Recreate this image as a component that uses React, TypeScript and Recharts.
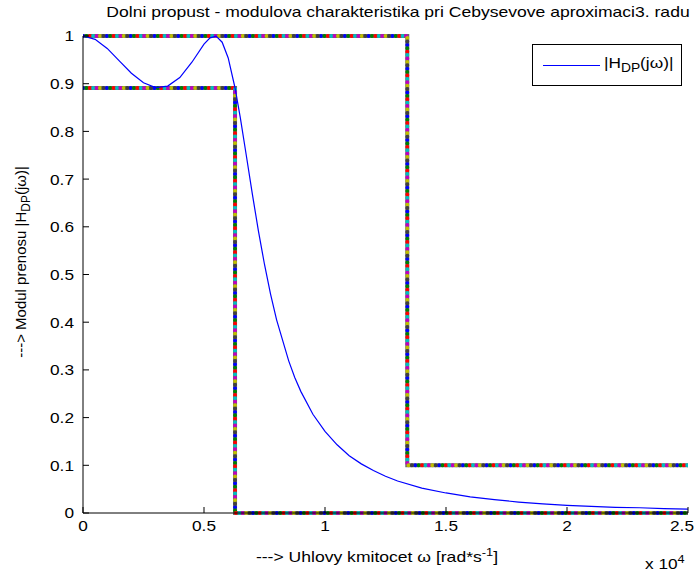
import React from "react";
import { Line, LineChart, XAxis, YAxis } from "recharts";

// omega in units of 10^4 rad/s
const omega = [
  0, 0.05, 0.1, 0.15, 0.2, 0.25, 0.3, 0.35, 0.4, 0.45, 0.5, 0.525, 0.55,
  0.575, 0.6, 0.6283, 0.65, 0.675, 0.7, 0.725, 0.75, 0.775, 0.8, 0.85, 0.875,
  0.9, 0.95, 1.0, 1.05, 1.1, 1.15, 1.2, 1.25, 1.3, 1.4, 1.5, 1.6, 1.7, 1.8,
  1.9, 2.0, 2.1, 2.2, 2.3, 2.4, 2.5,
];
const modul = [
  1, 0.993, 0.974, 0.948, 0.922, 0.902, 0.892, 0.895, 0.913, 0.945, 0.983,
  0.996, 0.9996, 0.987, 0.954, 0.891, 0.829, 0.749, 0.668, 0.591, 0.521,
  0.459, 0.405, 0.319, 0.284, 0.255, 0.207, 0.171, 0.143, 0.12, 0.103, 0.089,
  0.077, 0.067, 0.052, 0.042, 0.034, 0.028, 0.023, 0.019, 0.016, 0.014, 0.012,
  0.011, 0.009, 0.008,
];

// tolerance template
const upperW = [0, 1.34, 1.34, 2.5];
const upperH = [1, 1, 0.1, 0.1];
const lowerW = [0, 0.6283, 0.6283, 2.5];
const lowerH = [0.891, 0.891, 0, 0];

const xTicks = [0, 0.5, 1, 1.5, 2, 2.5];
const yTicks = [0, 0.1, 0.2, 0.3, 0.4, 0.5, 0.6, 0.7, 0.8, 0.9, 1];

const dotColors = [
  "#0000ff",
  "#008000",
  "#ff0000",
  "#00bfbf",
  "#bf00bf",
  "#bfbf00",
  "#404040",
];

const curve = omega.map((w, i) => ({ w, h: modul[i] }));
const upper = upperW.map((w, i) => ({ w, h: upperH[i] }));
const lower = lowerW.map((w, i) => ({ w, h: lowerH[i] }));

const font = '"Liberation Sans", Arial, sans-serif';
const stretch = 1.15; // the reference text is wider than normal
const step = 3.4;

function templateLines(data: { w: number; h: number }[], key: string) {
  return [
    <Line
      key={key + "-base"}
      data={data}
      dataKey="h"
      stroke="#6a6a6a"
      strokeWidth={4}
      dot={false}
      activeDot={false}
      isAnimationActive={false}
    />,
    ...dotColors.map((c, i) => (
      <Line
        key={key + i}
        data={data}
        dataKey="h"
        stroke={c}
        strokeWidth={4}
        strokeLinecap="round"
        strokeDasharray={`0 ${step * dotColors.length}`}
        strokeDashoffset={-i * step}
        dot={false}
        activeDot={false}
        isAnimationActive={false}
      />
    )),
  ];
}

function XTick(props: any) {
  const { x, y, payload } = props;
  // keep the last label inside the picture
  const atEdge = x > 680;
  return (
    <text
      transform={`translate(${atEdge ? 694 : x},${y}) scale(${stretch},1)`}
      textAnchor={atEdge ? "end" : "middle"}
      dy="0.71em"
      fontSize={15}
      fontFamily={font}
      fill="#000"
    >
      {String(payload.value)}
    </text>
  );
}

function YTick(props: any) {
  const { x, y, payload } = props;
  return (
    <text
      transform={`translate(${x},${y}) scale(${stretch},1)`}
      textAnchor="end"
      dy="0.36em"
      fontSize={15}
      fontFamily={font}
      fill="#000"
    >
      {String(Math.round(payload.value * 10) / 10)}
    </text>
  );
}

export default function App() {
  return (
    <div
      style={{
        position: "absolute",
        left: 0,
        top: 0,
        width: 695,
        height: 573,
        background: "#fff",
        fontFamily: font,
      }}
    >
      <div
        style={{
          position: "absolute",
          top: 3,
          left: 398,
          transform: `translateX(-50%) scale(1.17,1)`,
          whiteSpace: "nowrap",
          fontSize: 15,
          color: "#000",
        }}
      >
        Dolni propust - modulova charakteristika pri Cebysevove aproximaci3. radu
      </div>
      <LineChart
        width={695}
        height={573}
        margin={{ top: 36, right: 7, bottom: 30, left: 43 }}
      >
        <XAxis
          dataKey="w"
          type="number"
          domain={[0, 2.5]}
          ticks={xTicks}
          allowDataOverflow
          height={30}
          stroke="#000"
          tickSize={-6}
          tickMargin={13}
          tick={<XTick />}
        />
        <XAxis
          xAxisId="top"
          orientation="top"
          dataKey="w"
          type="number"
          domain={[0, 2.5]}
          ticks={xTicks}
          height={0}
          stroke="#000"
          tickSize={-6}
          tick={false}
        />
        <YAxis
          type="number"
          domain={[0, 1]}
          ticks={yTicks}
          width={40}
          stroke="#000"
          tickSize={-6}
          tickMargin={15}
          tick={<YTick />}
        />
        <YAxis
          yAxisId="right"
          orientation="right"
          type="number"
          domain={[0, 1]}
          ticks={yTicks}
          width={0}
          stroke="#000"
          tickSize={-6}
          tick={false}
        />
        {templateLines(upper, "up")}
        {templateLines(lower, "lo")}
        <Line
          data={curve}
          dataKey="h"
          name="|H_DP(jω)|"
          stroke="#0000ff"
          strokeWidth={1.2}
          dot={false}
          activeDot={false}
          isAnimationActive={false}
        />
      </LineChart>
      <div
        style={{
          position: "absolute",
          left: 532,
          top: 44,
          width: 150,
          height: 42,
          boxSizing: "border-box",
          border: "1px solid #000",
          background: "#fff",
        }}
      >
        <span
          style={{
            position: "absolute",
            left: 10,
            top: 20,
            width: 57,
            height: 1,
            background: "#0000ff",
          }}
        />
        <span
          style={{
            position: "absolute",
            left: 71,
            top: 9,
            fontSize: 15,
            whiteSpace: "nowrap",
            transform: `scale(${stretch},1)`,
            transformOrigin: "left center",
          }}
        >
          |H<sub style={{ fontSize: 12 }}>DP</sub>(jω)|
        </span>
      </div>
      <div
        style={{
          position: "absolute",
          top: 546,
          left: 377,
          transform: `translateX(-50%) scale(${stretch + 0.02},1)`,
          whiteSpace: "nowrap",
          fontSize: 15,
        }}
      >
        ---&gt; Uhlovy kmitocet ω [rad*s<sup style={{ fontSize: 11 }}>-1</sup>]
      </div>
      <div
        style={{
          position: "absolute",
          top: 553,
          left: 645,
          fontSize: 15,
          whiteSpace: "nowrap",
          transform: `scale(${stretch},1)`,
          transformOrigin: "left center",
        }}
      >
        x 10<sup style={{ fontSize: 11 }}>4</sup>
      </div>
      <div
        style={{
          position: "absolute",
          left: 22,
          top: 262,
          transform: "translate(-50%, -50%) rotate(-90deg)",
          whiteSpace: "nowrap",
          fontSize: 15,
        }}
      >
        ---&gt; Modul prenosu |H<sub style={{ fontSize: 12 }}>DP</sub>(jω)|
      </div>
    </div>
  );
}
